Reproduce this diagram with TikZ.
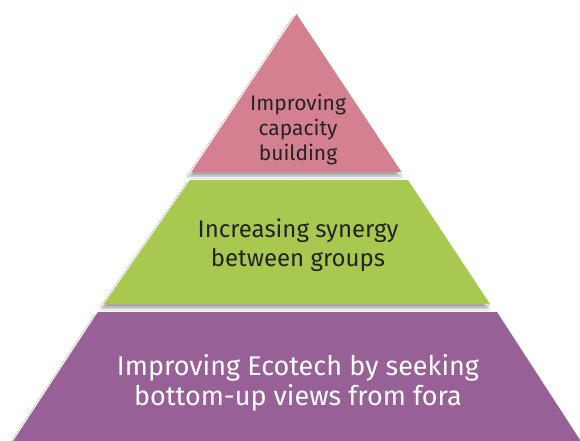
\documentclass[tikz,border=0pt]{standalone}
\usepackage{fontspec}
\setmainfont{Fira Sans}
\usetikzlibrary{shadows.blur}
\definecolor{tierpink}{RGB}{212,128,145}
\definecolor{tiergreen}{RGB}{168,200,80}
\definecolor{tierpurple}{RGB}{151,96,150}
\definecolor{darktext}{RGB}{35,35,35}
\tikzset{
  tier/.style={blur shadow={shadow xshift=-2pt, shadow yshift=-4pt, shadow blur steps=6, shadow opacity=35}},
  label/.style={align=center, inner sep=0pt}
}
\begin{document}
\begin{tikzpicture}[x=1pt,y=-1pt]
\fill[white] (0,0) rectangle (580,441);
\useasboundingbox (0,0) rectangle (580,441);
\begin{scope}
\clip (0,0) rectangle (580,441);
% bottom tier
\fill[tierpurple, tier] (98,312) -- (497,312) -- (582,443) -- (12,443) -- cycle;
% middle tier
\fill[tiergreen, tier] (190,180) -- (408,180) -- (490,304) -- (104,304) -- cycle;
% top tier
\fill[tierpink, tier] (296.5,14) -- (401.5,172) -- (191.5,172) -- cycle;
\end{scope}
\node[label, text=darktext, font=\fontsize{21}{25}\selectfont] (top) at (298,129.5) {Improving\\capacity\\building};
\node[label, text=darktext, font=\fontsize{24}{29.5}\selectfont] (mid) at (298,245) {Increasing synergy\\between groups};
\node[label, text=white, font=\fontsize{27}{30}\selectfont] (bot) at (298,383) {Improving Ecotech by seeking\\bottom-up views from fora};
\end{tikzpicture}
\end{document}
